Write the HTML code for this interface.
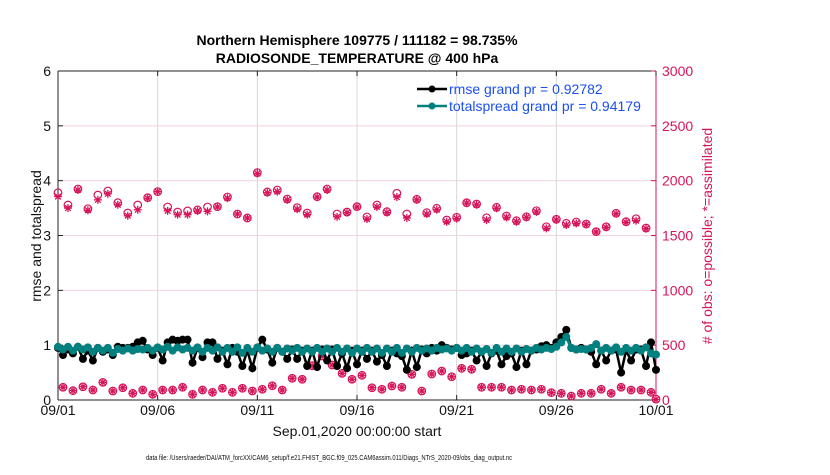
<!DOCTYPE html>
<html><head><meta charset="utf-8"><style>
body{margin:0;background:#fff;}
svg text{font-family:"Liberation Sans",sans-serif;}
</style></head><body>
<svg id="c" width="830" height="470" xmlns="http://www.w3.org/2000/svg"></svg>
<script>
const xTicks=['09/01','09/06','09/11','09/16','09/21','09/26','10/01'];
const yTicks=[0,1,2,3,4,5,6];
const rTicks=[0,500,1000,1500,2000,2500,3000];
const rmse=[0.95,0.82,0.92,0.85,0.97,0.75,0.9,0.72,0.95,0.88,0.92,0.82,0.97,0.95,0.95,0.97,1.05,1.08,0.92,0.82,0.95,0.72,1.05,1.1,1.08,1.1,1.1,0.68,0.95,0.78,1.05,1.05,0.75,0.9,0.65,0.95,0.88,0.62,0.9,0.58,0.95,1.1,0.92,0.68,0.95,0.88,0.75,0.92,0.75,0.9,0.62,0.9,0.6,0.92,0.72,0.92,0.62,0.85,0.58,0.9,0.65,0.9,0.75,0.9,0.7,0.82,0.62,0.9,0.85,0.8,0.55,0.9,0.6,0.92,0.85,0.95,0.9,1.0,0.95,0.92,0.95,0.82,0.85,0.9,0.72,0.88,0.62,0.85,0.9,0.65,0.8,0.85,0.6,0.9,0.65,0.9,0.92,0.98,1.0,0.95,1.05,1.15,1.28,0.95,0.92,0.95,0.92,0.88,0.65,0.9,0.72,0.9,0.92,0.5,0.9,0.72,0.92,0.92,0.62,1.05,0.55];
const spread=[0.97,0.92,0.97,0.9,0.97,0.92,0.96,0.88,0.95,0.9,0.95,0.86,0.93,0.9,0.94,0.9,0.93,0.92,0.95,0.9,0.96,0.92,0.97,0.9,0.96,0.92,0.95,0.9,0.96,0.88,0.95,0.9,0.96,0.88,0.95,0.88,0.96,0.86,0.95,0.88,0.96,0.9,0.94,0.88,0.95,0.88,0.94,0.9,0.95,0.88,0.94,0.88,0.95,0.88,0.94,0.88,0.95,0.88,0.94,0.86,0.94,0.88,0.95,0.88,0.94,0.86,0.94,0.88,0.95,0.86,0.94,0.88,0.95,0.9,0.94,0.9,0.95,0.92,0.94,0.9,0.95,0.9,0.95,0.88,0.94,0.88,0.93,0.86,0.95,0.88,0.94,0.88,0.94,0.88,0.93,0.9,0.95,0.92,0.95,0.93,0.97,1.05,1.15,0.95,0.92,0.93,0.92,0.95,1.02,0.9,0.95,0.9,0.96,0.88,0.95,0.9,0.95,0.9,0.96,0.85,0.83];
const obsPossibleMain=[1890,1778,1924,1744,1869,1906,1799,1705,1778,1845,1900,1760,1714,1724,1733,1760,1763,1851,1696,1660,2073,1897,1915,1833,1754,1705,1854,1924,1696,1714,1763,1669,1778,1717,1885,1696,1830,1708,1748,1641,1666,1799,1787,1662,1757,1678,1635,1671,1726,1580,1648,1611,1623,1605,1535,1580,1703,1626,1653,1568,8];
const obsAssimMain=[1855,1750,1915,1730,1825,1880,1780,1680,1735,1840,1900,1725,1690,1690,1725,1720,1760,1840,1696,1660,2065,1890,1900,1825,1740,1690,1850,1915,1670,1708,1760,1650,1760,1708,1850,1660,1825,1695,1735,1625,1655,1795,1780,1640,1748,1665,1625,1665,1715,1565,1642,1595,1610,1602,1532,1574,1698,1620,1635,1562,5];
const obsPossibleLow=[116,85,121,91,161,82,112,61,91,52,91,91,116,52,91,70,107,70,107,82,98,130,91,198,189,313,401,319,243,189,225,112,98,128,116,234,82,237,264,212,289,280,116,116,116,91,98,91,98,67,61,36,61,61,98,61,116,91,91,70];
const obsAssimLow=[116,85,121,91,161,82,112,61,91,52,91,91,116,52,91,70,107,70,107,82,98,130,91,198,189,313,401,319,243,189,225,112,98,128,116,234,82,237,264,212,289,280,116,116,116,91,98,91,98,67,61,36,61,61,98,61,116,91,91,70];

const NS='http://www.w3.org/2000/svg';
const svg=document.getElementById('c');
const X0=58,X1=656,Y0=400,Y1=71;
const xd=d=>X0+(X1-X0)*d/30;
const yl=v=>Y0-(Y0-Y1)*v/6;
const yr=v=>Y0-(Y0-Y1)*v/3000;
function el(tag,attrs,parent){const e=document.createElementNS(NS,tag);for(const k in attrs)e.setAttribute(k,attrs[k]);(parent||svg).appendChild(e);return e;}
function txt(s,attrs){const t=el('text',attrs);t.textContent=s;return t;}
const PINK='#d6145a',TEAL='#00807f';

yTicks.forEach(v=>{if(v>0&&v<6){const l=el('line',{x1:X0,x2:X1,y1:yl(v),y2:yl(v),stroke:'#f2d3df','stroke-width':1});

}});
xTicks.forEach((s,i)=>{if(i>0&&i<6){const l=el('line',{x1:xd(i*5),x2:xd(i*5),y1:Y1,y2:Y0,stroke:'#d8d8d8','stroke-width':1});

}});

let a=el('line',{x1:X0,x2:X0,y1:Y1,y2:Y0,stroke:'#222','stroke-width':1});


a=el('line',{x1:X0,x2:X1,y1:Y0,y2:Y0,stroke:'#222','stroke-width':1});


a=el('line',{x1:X0,x2:X1,y1:Y1,y2:Y1,stroke:'#222','stroke-width':1});


a=el('line',{x1:X1,x2:X1,y1:Y1,y2:Y0,stroke:PINK,'stroke-width':1});



yTicks.forEach(v=>{
  el('line',{x1:X0,x2:X0+5,y1:yl(v),y2:yl(v),stroke:'#222'});
  const t=txt(String(v),{x:51,y:yl(v)+5,'text-anchor':'end','font-size':14,fill:'#111'});
  
  
});
rTicks.forEach(v=>{
  el('line',{x1:X1-5,x2:X1,y1:yr(v),y2:yr(v),stroke:PINK});
  const t=txt(String(v),{x:662,y:yr(v)+5,'font-size':14,fill:PINK});
  
  
});
xTicks.forEach((s,i)=>{
  el('line',{x1:xd(i*5),x2:xd(i*5),y1:Y0,y2:Y0-5,stroke:'#222'});
  el('line',{x1:xd(i*5),x2:xd(i*5),y1:Y1,y2:Y1+5,stroke:'#222'});
  const t=txt(s,{x:xd(i*5),y:415,'text-anchor':'middle','font-size':14,fill:'#111'});
  
  
});

function star(cx,cy,r,g){for(let k=0;k<4;k++){const an=k*Math.PI/4;el('line',{x1:cx-r*Math.cos(an),y1:cy-r*Math.sin(an),x2:cx+r*Math.cos(an),y2:cy+r*Math.sin(an),stroke:PINK,'stroke-width':1.3},g);}}
function obsSeries(poss,assim,offset,name){
  const g=el('g',{});
  
  
  poss.forEach((v,i)=>{const d=i*0.5+offset;
    const c=el('circle',{cx:xd(d),cy:yr(v),r:3.8,fill:'none',stroke:PINK,'stroke-width':1.2},g);
    
    
    star(xd(d),yr(assim[i]),4,g);
  });
}
obsSeries(obsPossibleMain,obsAssimMain,0,'obs-main-series');
obsSeries(obsPossibleLow,obsAssimLow,0.25,'obs-low-series');

function lineSeries(vals,color,name,lw,r){
  const g=el('g',{});
  
  
  const pts=vals.map((v,i)=>xd(i*0.25).toFixed(1)+','+yl(v).toFixed(1)).join(' ');
  el('polyline',{points:pts,fill:'none',stroke:color,'stroke-width':lw},g);
  vals.forEach((v,i)=>{const c=el('circle',{cx:xd(i*0.25),cy:yl(v),r:r,fill:color},g);
    
    });
}
lineSeries(rmse,'#000','rmse-series',2.5,4);
lineSeries(spread,TEAL,'spread-series',3,4);

const lg=el('g',{});


el('line',{x1:417,x2:447,y1:89,y2:89,stroke:'#000','stroke-width':2.5},lg);
el('circle',{cx:432,cy:89,r:3.5,fill:'#000'},lg);
el('line',{x1:417,x2:447,y1:106,y2:106,stroke:TEAL,'stroke-width':2.5},lg);
el('circle',{cx:432,cy:106,r:3.5,fill:TEAL},lg);
let t=txt('rmse grand pr = 0.92782',{x:449,y:94,'font-size':14,fill:'#1a4ff0'});


t=txt('totalspread grand pr = 0.94179',{x:449,y:111,'font-size':14,fill:'#1a4ff0'});



t=txt('Northern Hemisphere 109775 / 111182 = 98.735%',{x:357,y:45,'text-anchor':'middle','font-size':14,'font-weight':'bold',fill:'#000'});


t=txt('RADIOSONDE_TEMPERATURE @ 400 hPa',{x:357,y:63,'text-anchor':'middle','font-size':14,'font-weight':'bold',fill:'#000'});


t=txt('Sep.01,2020 00:00:00 start',{x:357,y:436,'text-anchor':'middle','font-size':14,fill:'#111'});


t=txt('rmse and totalspread',{x:0,y:0,'text-anchor':'middle','font-size':14,fill:'#111',transform:'translate(41,236) rotate(-90)'});


t=txt('# of obs: o=possible; *=assimilated',{x:0,y:0,'text-anchor':'middle','font-size':14,fill:PINK,transform:'translate(712,236) rotate(-90)'});


t=txt('data file: /Users/raeder/DAI/ATM_forcXX/CAM6_setup/f.e21.FHIST_BGC.f09_025.CAM6assim.011/Diags_NTrS_2020-09/obs_diag_output.nc',{x:146,y:460,'font-size':7,fill:'#111',textLength:366,lengthAdjust:'spacingAndGlyphs'});


</script>
</body></html>
